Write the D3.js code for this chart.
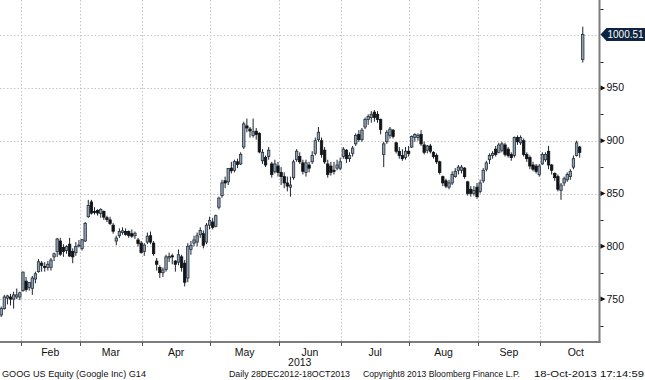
<!DOCTYPE html>
<html>
<head>
<meta charset="utf-8">
<script src="https://cdn.jsdelivr.net/npm/d3@7/dist/d3.min.js"></script>
<style>
html,body{margin:0;padding:0;background:#fff;}
svg{display:block;}
text{font-family:"Liberation Sans Narrow","Liberation Sans",Arial,sans-serif;}
</style>
</head>
<body>
<svg id="chart" width="645" height="380"></svg>
<script>
// Daily GOOG candles, 23-Jan-2013 .. 18-Oct-2013 (trading days)
const openVals = [
735,741,751,752,750,752,752,
758,767,761,760,769,776,784,781,780,780,790,795,805,799,796,802,795,794,801,
798,805,828,842,833,834,831,833,827,825,820,805,810,813,814,814,812,810,806,803,
795,804,810,803,786,780,775,778,789,791,786,785,790,784,770,797,803,804,811,812,804,820,
823,819,837,848,862,861,874,872,880,878,894,914,911,905,909,907,881,884,885,878,871,876,
870,866,860,856,865,882,885,879,870,877,880,888,901,900,891,878,876,872,874,874,
885,891,883,888,897,906,901,913,920,922,927,925,920,887,899,905,910,898,890,886,884,890,
894,903,903,906,896,891,895,889,886,880,866,862,856,860,866,872,872,874,861,854,850,856,
852,862,873,882,886,892,889,891,896,892,887,886,903,898,900,887,884,877,876,868,
878,882,890,877,869,866,853,860,863,866,875,886,894,977
];
const highVals = [
743,754,754,755,757,760,757,
776,771,766,772,776,788,786,785,786,789,794,808,808,802,801,808,798,804,806,
807,823,844,844,837,835,836,834,829,828,822,810,817,818,817,815,816,814,808,805,
803,813,814,805,789,782,780,792,794,793,787,797,792,787,803,805,810,813,818,815,822,828,
827,830,847,863,866,874,880,882,883,889,918,921,913,921,912,908,892,886,894,880,882,880,
875,870,866,866,882,892,889,882,882,880,890,903,913,903,894,882,880,880,882,884,
894,892,889,895,907,910,912,922,925,928,929,928,921,899,910,913,911,899,894,892,894,895,
905,907,907,910,899,896,897,890,888,881,867,864,863,871,874,877,877,875,862,857,857,860,
863,874,881,888,890,895,898,899,898,894,889,904,905,905,902,889,886,880,878,878,
889,889,895,878,870,868,860,866,870,873,886,900,895,1008
];
const lowVals = [
733,740,745,744,741,750,749,
757,757,758,754,765,775,776,776,777,777,786,790,791,790,793,790,784,791,799,
796,804,827,830,830,829,827,825,823,820,812,801,808,811,810,808,808,807,800,793,
791,802,802,791,777,770,771,776,785,783,776,782,776,762,766,792,800,800,808,798,802,816,
816,818,835,846,855,858,869,870,874,877,892,908,903,903,901,888,878,875,882,865,869,866,
858,855,852,847,863,880,878,868,866,870,878,886,899,884,878,865,867,868,872,872,
883,879,880,885,895,899,899,911,915,917,918,917,906,875,897,902,902,888,883,881,882,885,
893,899,900,895,887,888,888,883,878,868,857,855,854,858,865,868,869,864,848,847,848,845,
850,860,871,878,883,885,888,889,885,884,881,884,896,896,885,880,873,871,869,866,
877,880,873,868,862,852,844,857,861,863,873,885,884,974
];
const closeVals = [
741,752,753,750,754,754,756,
775.6,759,765.7,770,774,785.4,782,780,783,787,792.9,806.9,792.5,795,799.7,790.8,790,799.8,801.2,
806.2,821.5,838.6,831.4,832.6,831.5,834.8,827.6,825.3,821.5,814.3,807.8,814,814.7,811.3,810.3,809.6,812.4,802.7,794.2,
801.2,809.6,804,793,783,775,777.6,790,790.4,790,783,792,780,766,800,801,806,810,815,801,820,824.6,
818,829,845.7,860,860,873.6,871.5,880.2,877.5,887.1,915.9,912,909.2,908.5,906,889.4,889,877,891,868,878,870,
866,860,857,858,880,890,880,871,879,874,886,900,908,887,880,868,870,871,877,880,
892,883,886,893,905,901,910,920,923,925,922,920,910.7,897,908,911,904,890,886,883,890,887.8,
904,906,905,897,889,895,890,885,880,870,860,857,860,868,871,875,875,866,850,850,853,847,
860,872,879,886,888,887,896,897,887,886,884,903,899,903,887,883,876,873,871,876,
887,887,877,872,865,854,858,864,868,871,883,898,888.8,1000.51
];
const monthLabels = ["Feb","Mar","Apr","May","Jun","Jul","Aug","Sep","Oct"];
const monthStartIdx = [7,26,46,68,90,110,132,154,174];
const monthTradingDays = [19,20,22,22,20,22,22,20,23];
const yTicks = [750,800,850,900,950,1000];
const yMinorTicks = [725,775,825,875,925,975,1025];
const yearLabel = "2013";
const lastPrice = 1000.51;
const footer = [
  {t:"GOOG US Equity (Google Inc) G14", x:2, w:144},
  {t:"Daily 28DEC2012-18OCT2013", x:229, w:121},
  {t:"Copyright8 2013 Bloomberg Finance L.P.", x:363, w:157},
  {t:"18-Oct-2013 17:14:59", x:534, w:110}
];

const svg = d3.select("#chart");
const axisX = 599.5, axisY = 342;
const step = 3.11;

const n = closeVals.length;
const x = d3.scaleLinear().domain([0, n-1]).range([1.2, 1.2 + (n-1)*step]);
const y = d3.scaleLinear().domain([700, 1000]).range([351.9, 35.1]);
const gridX = i => x(i) - 2.3;

svg.append("defs").append("clipPath").attr("id","plotclip")
  .append("rect").attr("x",0).attr("y",0).attr("width",axisX).attr("height",axisY);

// horizontal grid
svg.append("g").selectAll("line").data(yTicks).join("line")
  .attr("x1",0).attr("x2",axisX)
  .attr("y1",d=>Math.round(y(d))+0.5).attr("y2",d=>Math.round(y(d))+0.5)
  .attr("stroke","#c4c4c4").attr("stroke-width",1).attr("stroke-dasharray","1.5,2");

// vertical grid
svg.append("g").selectAll("line").data(monthStartIdx).join("line")
  .attr("x1",d=>Math.round(gridX(d))+0.5).attr("x2",d=>Math.round(gridX(d))+0.5)
  .attr("y1",0).attr("y2",axisY)
  .attr("stroke","#c4c4c4").attr("stroke-width",1).attr("stroke-dasharray","1.5,2");

// candles
const data = d3.range(n).map(i => ({i, o:openVals[i], h:highVals[i], l:lowVals[i], c:closeVals[i]}));
const cg = svg.append("g").attr("clip-path","url(#plotclip)");
cg.selectAll("line.wick").data(data).join("line").attr("class","wick")
  .attr("x1",d=>x(d.i)).attr("x2",d=>x(d.i))
  .attr("y1",d=>y(d.h)).attr("y2",d=>y(d.l))
  .attr("stroke","#1b232c").attr("stroke-width",1);
cg.selectAll("rect.body").data(data).join("rect").attr("class","body")
  .attr("x",d=>x(d.i)-1.2).attr("width",2.4)
  .attr("y",d=>y(Math.max(d.o,d.c)))
  .attr("height",d=>Math.max(1, Math.abs(y(d.o)-y(d.c))))
  .attr("fill",d=>d.c>=d.o ? "#8fa0b4" : "#111417")
  .attr("stroke",d=>d.c>=d.o ? "#26313c" : "#111417")
  .attr("stroke-width",0.8);

// axes lines
svg.append("line").attr("x1",axisX).attr("x2",axisX).attr("y1",0).attr("y2",axisY+1)
  .attr("stroke","#7d7d7d").attr("stroke-width",2);
svg.append("line").attr("x1",0).attr("x2",axisX+1).attr("y1",axisY).attr("y2",axisY)
  .attr("stroke","#7d7d7d").attr("stroke-width",2);

// y ticks
const yt = svg.append("g");
yt.selectAll("path").data(yTicks.filter(d=>d<1000)).join("path")
  .attr("d",d=>{const yy=y(d);return `M${axisX+1},${yy-2.5}L${axisX+6},${yy}L${axisX+1},${yy+2.5}Z`;})
  .attr("fill","#111");
yt.selectAll("line").data(yMinorTicks).join("line")
  .attr("x1",axisX+1).attr("x2",axisX+4)
  .attr("y1",d=>Math.round(y(d))+0.5).attr("y2",d=>Math.round(y(d))+0.5)
  .attr("stroke","#222").attr("stroke-width",1);
yt.selectAll("text").data(yTicks.filter(d=>d<1000)).join("text")
  .attr("x",axisX+7).attr("y",d=>y(d)+3.5)
  .attr("font-size",10.5).attr("fill","#111")
  .text(d=>d);

// last price tag
const ly = y(lastPrice);
svg.append("path")
  .attr("d",`M${axisX+1},${ly}L${axisX+7},${ly-6.5}L645,${ly-6.5}L645,${ly+6.5}L${axisX+7},${ly+6.5}Z`)
  .attr("fill","#0e2440");
svg.append("text").attr("x",axisX+8).attr("y",ly+3.8)
  .attr("font-size",10).attr("fill","#fff").text(lastPrice.toFixed(2));

// x ticks
svg.append("g").selectAll("line").data(monthStartIdx).join("line")
  .attr("x1",d=>Math.round(gridX(d))+0.5).attr("x2",d=>Math.round(gridX(d))+0.5)
  .attr("y1",axisY).attr("y2",axisY+4)
  .attr("stroke","#555").attr("stroke-width",1);
svg.append("g").selectAll("text").data(monthLabels).join("text")
  .attr("x",(d,k)=>gridX(monthStartIdx[k] + monthTradingDays[k]/2))
  .attr("y",355.5).attr("text-anchor","middle")
  .attr("font-size",10.5).attr("fill","#111").text(d=>d);
svg.append("text").attr("x",axisX/2).attr("y",365.5).attr("text-anchor","middle")
  .attr("font-size",10.5).attr("fill","#111").text(yearLabel);

// footer
svg.append("g").selectAll("text").data(footer).join("text")
  .attr("x",d=>d.x).attr("y",377)
  .attr("font-size",9).attr("fill","#111")
  .attr("textLength",d=>d.w).attr("lengthAdjust","spacingAndGlyphs")
  .text(d=>d.t);
</script>
</body>
</html>
